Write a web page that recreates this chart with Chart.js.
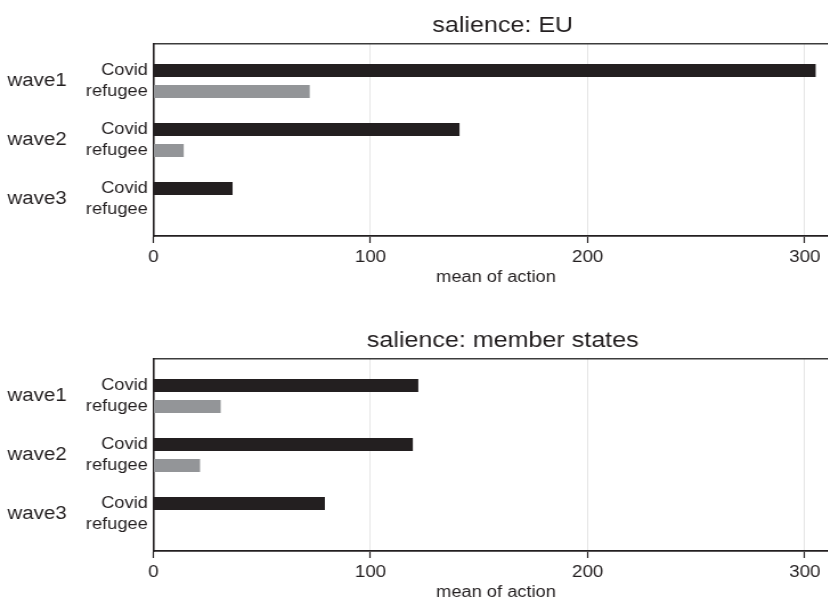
<!DOCTYPE html>
<html>
<head>
<meta charset="utf-8">
<title>salience</title>
<script src="https://cdn.jsdelivr.net/npm/chart.js@4.4.1/dist/chart.umd.min.js"></script>
<style>
  html, body { margin: 0; padding: 0; background: #fff; overflow: hidden; width: 828px; height: 599px; }
  .panel { position: absolute; left: 0; transform: scaleX(1.14); transform-origin: 0 0; }
</style>
</head>
<body>
<div class="panel" style="top:0"><canvas id="chart-eu" width="882" height="300"></canvas></div>
<div class="panel" style="top:315px"><canvas id="chart-ms" width="882" height="300"></canvas></div>
<script>
const waves = ['wave1', 'wave2', 'wave3'];
const types = ['Covid', 'refugee'];
const xTicks = [0, 100, 200, 300];

// mean of action, salience: EU
const euCovid = [305, 141, 36.5];
const euRefugee = [72, 14, 0];

// mean of action, salience: member states
const msCovid = [122, 119.5, 79];
const msRefugee = [31, 21.5, 0];

const ink = '#231f20';
const catPct = 0.712;

Chart.defaults.font.family = "'Liberation Sans', Arial, Helvetica, sans-serif";
Chart.defaults.color = ink;

document.addEventListener('DOMContentLoaded', function() {
    createPanel('chart-eu', 'salience: EU', euCovid, euRefugee);
    createPanel('chart-ms', 'salience: member states', msCovid, msRefugee);
});

function createPanel(id, title, covid, refugee) {
    const ctx = document.getElementById(id).getContext('2d');

    new Chart(ctx, {
        type: 'bar',
        data: {
            datasets: [{
                label: types[0],
                data: covid.map((v, i) => ({ x: v, y: i })),
                backgroundColor: ink
            }, {
                label: types[1],
                data: refugee.map((v, i) => ({ x: v, y: i })),
                backgroundColor: '#939598'
            }]
        },
        options: {
            responsive: false,
            animation: false,
            indexAxis: 'y',
            datasets: {
                bar: { categoryPercentage: catPct, barPercentage: 0.62, borderWidth: 0 }
            },
            plugins: {
                legend: { display: false },
                tooltip: { enabled: false },
                title: {
                    display: true,
                    text: title,
                    color: ink,
                    font: { size: 22, weight: 'normal' },
                    padding: { top: 12.5, bottom: 4.4 }
                }
            },
            scales: {
                x: {
                    type: 'linear',
                    position: 'bottom',
                    min: 0,
                    max: 315.6,
                    afterBuildTicks: s => { s.ticks = xTicks.map(v => ({ value: v })); },
                    afterFit: s => { s.height = 64; },
                    grid: { color: '#e2e2e2', lineWidth: 0.9, tickColor: ink, tickLength: 7, tickWidth: 1.2 },
                    border: { color: ink, width: 1.8 },
                    ticks: { font: { size: 16.5 }, color: ink, padding: 4.9, maxRotation: 0, autoSkip: false },
                    title: {
                        display: true,
                        text: 'mean of action',
                        color: ink,
                        font: { size: 16 },
                        padding: { top: 0, bottom: 12.5 }
                    }
                },
                xTop: {
                    type: 'linear',
                    position: 'top',
                    afterFit: s => { s.height = 0; },
                    grid: { display: false, drawTicks: false },
                    ticks: { display: false },
                    border: { color: '#3c3c3c', width: 1.4 }
                },
                // wave labels, outer column
                y: {
                    type: 'linear',
                    position: 'left',
                    weight: 1,
                    offset: false,
                    min: -0.64,
                    max: 2.63,
                    reverse: true,
                    afterBuildTicks: s => { s.ticks = waves.map((w, i) => ({ value: i })); },
                    afterFit: s => { s.width = 72.5; },
                    grid: { display: false, drawTicks: false, offset: false },
                    border: { display: false },
                    ticks: {
                        font: { size: 18 },
                        color: ink,
                        padding: 14,
                        autoSkip: false,
                        callback: (v, i) => waves[i]
                    }
                },
                // Covid / refugee labels next to the bars
                ys: {
                    type: 'linear',
                    position: 'left',
                    weight: 0,
                    offset: false,
                    min: -0.64,
                    max: 2.63,
                    reverse: true,
                    afterBuildTicks: s => {
                        s.ticks = waves.flatMap((w, i) => [{ value: i - catPct / 4 }, { value: i + catPct / 4 }]);
                    },
                    afterFit: s => { s.width = 62; },
                    grid: { display: false, drawTicks: false, offset: false },
                    border: { color: ink, width: 1.6 },
                    ticks: {
                        font: { size: 16 },
                        color: ink,
                        padding: 4.9,
                        autoSkip: false,
                        callback: (v, i) => types[i % 2]
                    }
                },
                yr: {
                    type: 'linear',
                    position: 'right',
                    offset: false,
                    afterFit: s => { s.width = 146.3; },
                    grid: { display: false, drawTicks: false },
                    ticks: { display: false },
                    border: { display: false }
                }
            }
        }
    });
}
</script>
</body>
</html>
